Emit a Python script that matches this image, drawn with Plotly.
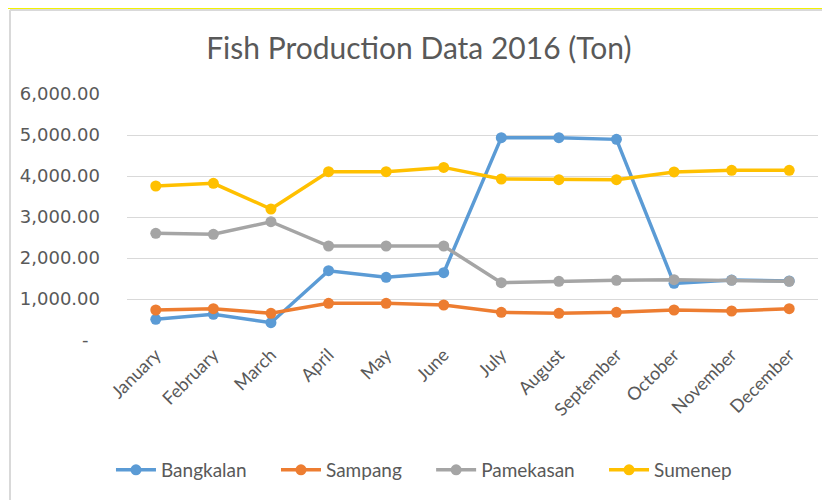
import plotly.graph_objects as go

months = ["January", "February", "March", "April", "May", "June", "July",
          "August", "September", "October", "November", "December"]
bangkalan = [505, 627, 422, 1690, 1529, 1641, 4935, 4935, 4894, 1382, 1463, 1439]
sampang = [732, 763, 651, 895, 895, 854, 675, 650, 675, 732, 707, 763]
pamekasan = [2602, 2578, 2885, 2293, 2293, 2293, 1398, 1431, 1455, 1471, 1455, 1431]
sumenep = [3756, 3822, 3195, 4105, 4105, 4210, 3927, 3910, 3910, 4098, 4138, 4138]

series = [("Bangkalan", bangkalan, "#5B9BD5"),
          ("Sampang", sampang, "#ED7D31"),
          ("Pamekasan", pamekasan, "#A5A5A5"),
          ("Sumenep", sumenep, "#FFC000")]

ytickvals = [0, 1000, 2000, 3000, 4000, 5000, 6000]
yticktext = ["-\u00a0\u00a0", "1,000.00", "2,000.00", "3,000.00",
             "4,000.00", "5,000.00", "6,000.00"]

pad = "\u00a0" * 5

fig = go.Figure()
for name, vals, col in series:
    fig.add_trace(go.Scatter(
        x=months, y=vals, name=name + pad, mode="lines+markers",
        line=dict(color=col, width=3.5),
        marker=dict(color=col, size=11),
    ))

grey = "#595959"
fig.update_layout(
    width=830, height=500,
    margin=dict(l=119, r=20, t=86, b=168),
    paper_bgcolor="white", plot_bgcolor="white",
    font=dict(family="Lato", color=grey),
    title=dict(text="Fish Production Data 2016 (Ton)", x=0.495, y=0.92,
               xanchor="center", yanchor="middle",
               font=dict(family="Lato", size=30, color=grey)),
    xaxis=dict(type="category", range=[-0.5, 11.5], showgrid=False,
               showline=False, zeroline=False, ticks="", tickangle=-45,
               tickfont=dict(family="Lato", size=18, color=grey)),
    yaxis=dict(range=[0, 6000], tickvals=ytickvals, ticktext=yticktext,
               showgrid=True, gridcolor="#d9d9d9", gridwidth=1,
               zeroline=False, showline=False, ticks="",
               ticklabelstandoff=26,
               tickfont=dict(family="DejaVu Sans", size=18, color=grey)),
    legend=dict(orientation="h", x=-0.0232, y=-0.5285, xanchor="left",
                yanchor="middle", font=dict(family="Lato", size=19, color=grey),
                itemwidth=40, tracegroupgap=0),
    showlegend=True,
    shapes=[
        dict(type="line", xref="paper", yref="paper", x0=-0.1693, x1=1.2,
             y0=1.3415, y1=1.3415, line=dict(color="#d9d9d9", width=2)),
        dict(type="line", xref="paper", yref="paper", x0=-0.1693, x1=-0.1693,
             y0=1.3415, y1=-0.7, line=dict(color="#d9d9d9", width=2)),
        dict(type="line", xref="paper", yref="paper", x0=-0.175, x1=1.2,
             y0=1.3476, y1=1.3476, line=dict(color="#f2f200", width=1)),
    ],
)

fig.write_html("out.html")
